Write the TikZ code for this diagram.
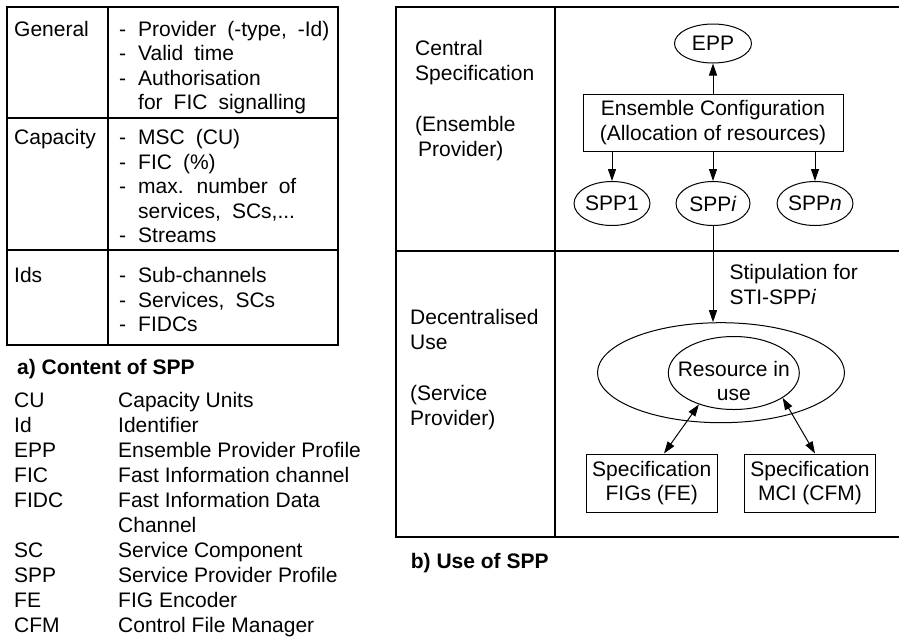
\documentclass[tikz,border=0pt]{standalone}
\usepackage{fontspec}
\setmainfont{Liberation Sans}
\usetikzlibrary{arrows.meta,shapes.geometric}
\newcommand{\widespace}{\spaceskip=11pt\relax}

\begin{document}
\begin{tikzpicture}[x=1pt, y=1pt, node distance=81pt, font=\fontsize{21}{24.5}\selectfont]
\tikzstyle{frame} = [line width=1.4pt]
\tikzstyle{block} = [rectangle, draw, line width=1pt, align=center, inner sep=0pt, minimum height=58pt]
\tikzstyle{oval} = [ellipse, draw, line width=1pt, inner sep=0pt]
\tikzstyle{txt} = [align=left, anchor=north west, inner sep=0pt]
\tikzstyle{items} = [txt, font=\fontsize{21}{24.5}\selectfont\widespace]
\tikzstyle{caption} = [anchor=base west, inner sep=0pt, font=\fontsize{21}{24.5}\selectfont\bfseries]
\tikzstyle{arrow} = [line width=1pt, -{Triangle[length=12pt,width=8pt]}]
\tikzstyle{twoway} = [line width=1pt, {Triangle[length=12pt,width=8pt]}-{Triangle[length=12pt,width=8pt]}]

\useasboundingbox (0,0) rectangle (899,-638);

% a) content of SPP
\draw [frame] (7,-7) rectangle (338,-345);
\draw [frame] (7,-118) -- (338,-118);
\draw [frame] (7,-250) -- (338,-250);
\draw [frame] (108,-7) -- (108,-345);

\node [txt] (general) at (14,-18.8) {\strut General};
\node [txt] (capacity) at (14,-127.2) {\strut Capacity};
\node [txt] (ids) at (14,-265.5) {\strut Ids};

\node [items] (generalitems) at (119,-18.8)
  {\strut -\hspace{12pt}Provider (-type, -Id)\\-\hspace{12pt}Valid time\\-\hspace{12pt}Authorisation\\\hspace{19pt}for FIC signalling};
\node [items] (capitems) at (119,-127.2)
  {\strut -\hspace{12pt}MSC (CU)\\-\hspace{12pt}FIC (\%)\\-\hspace{12pt}max. number of\\\hspace{19pt}services, SCs,...\\-\hspace{12pt}Streams};
\node [items] (iditems) at (119,-265.5)
  {\strut -\hspace{12pt}Sub-channels\\-\hspace{12pt}Services, SCs\\-\hspace{12pt}FIDCs};

\node [caption] (capa) at (17,-374.2) {a) Content of SPP};

% abbreviations
\node [txt, font=\fontsize{21}{25}\selectfont] (abbr) at (14,-390.1)
  {\strut CU\\Id\\EPP\\FIC\\FIDC\\\strut\\SC\\SPP\\FE\\CFM};
\node [txt, font=\fontsize{21}{25}\selectfont] (meaning) at (118,-390.1)
  {\strut Capacity Units\\Identifier\\Ensemble Provider Profile\\Fast Information channel\\Fast Information Data\\Channel\\Service Component\\Service Provider Profile\\FIG Encoder\\Control File Manager};

% b) use of SPP
\draw [frame] (900,-7) -- (396,-7) -- (396,-537) -- (900,-537);
\draw [frame] (396,-251) -- (900,-251);
\draw [frame] (555,-7) -- (555,-537);

\node [txt] (central) at (415,-38.5) {\strut Central\\Specification};
\node [txt] (ensprov) at (415,-114.5) {\strut (Ensemble\\\hspace{3pt}Provider)};
\node [txt] (decentral) at (410,-307.5) {\strut Decentralised\\Use};
\node [txt] (servprov) at (410,-383.2) {\strut (Service\\Provider)};

\node [block, minimum width=260pt, minimum height=57pt] (conf) at (713,-122.5) {Ensemble Configuration\\(Allocation of resources)};
\node [oval, minimum width=77pt, minimum height=39pt, above of=conf, node distance=79pt] (epp) {EPP};
\node [oval, minimum width=74pt, minimum height=44pt, below of=conf] (sppi) {SPP\textit{i}};
\node [oval, minimum width=74pt, minimum height=44pt, left of=sppi, node distance=101pt] (spp1) {SPP1};
\node [oval, minimum width=74pt, minimum height=44pt, right of=sppi, node distance=102pt] (sppn) {SPP\textit{n}};

\node [oval, minimum width=247pt, minimum height=100pt] (pool) at (721,-372.7) {};
\node [oval, minimum width=131pt, minimum height=73pt] (res) at (733.8,-373) {};
\node [align=center, inner sep=0pt] (restext) at (733.8,-381) {Resource in\\use};

\node [block, minimum width=131pt] (figs) at (651.7,-483) {Specification\\FIGs (FE)};
\node [block, minimum width=131.7pt, right of=figs, node distance=158.3pt] (mci) {Specification\\MCI (CFM)};

\draw [arrow] (conf) -- (epp);
\draw [arrow] (spp1 |- conf.south) -- (spp1);
\draw [arrow] (conf) -- (sppi);
\draw [arrow] (sppn |- conf.south) -- (sppn);
\draw [arrow] (sppi) -- node [pos=0.606, right=16pt, align=left, inner sep=0pt] (stip) {Stipulation for\\STI-SPP\textit{i}} (sppi |- pool.north);
\draw [twoway] (res.222) -- ([xshift=12.3pt]figs.north);
\draw [twoway] (res.333) -- ([xshift=5pt]mci.north);

\node [caption] (capb) at (410.7,-568.2) {b) Use of SPP};

\end{tikzpicture}
\end{document}
